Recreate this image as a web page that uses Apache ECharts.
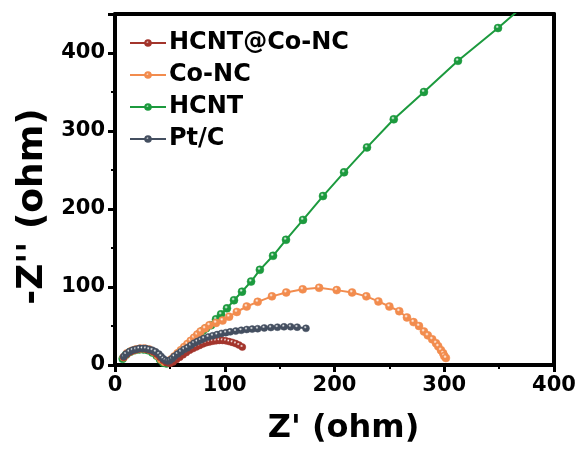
<!DOCTYPE html>
<html>
<head>
<meta charset="utf-8">
<script src="https://cdn.jsdelivr.net/npm/echarts@6/dist/echarts.min.js"></script>
<style>
  html, body { margin: 0; padding: 0; background: #fff; }
  #chart { width: 584px; height: 450px; }
</style>
</head>
<body>
<div id="chart"></div>
<script>
// Nyquist data: [Z', -Z'] in ohm
var seriesNames = ['HCNT@Co-NC', 'Co-NC', 'HCNT', 'Pt/C'];
var colors = ['#a3352c', '#f28c4e', '#1c9a3e', '#444f60'];

var hcntCoNC = [[8,10],[11,14],[14,17],[17,19],[20,20],[23,21],[26,21],[29,20],[32,19],[35,17],[38,14],[41,10],[44,6],[47,3],[50,2],[53,4],[56,7],[59,10],[62,13],[65,16],[68,19],[71,21],[74,23],[77,25],[80,27],[83,28.5],[86,29.5],[89,30.5],[92,31],[95,31.5],[98,31.5],[101,31],[104,30],[107,29],[110,27.5],[113,25.5],[116,23]];

var coNC = [[8,10],[11,15],[15,18],[19,20],[23,21],[27,21],[31,20],[35,17],[39,12],[42,7],[45,4],[48,4],[51,7],[54,11],[57,15],[60,19],[63,23],[66,27],[69,31],[72,35],[75,39],[78,43],[82,47],[86,51],[92,54],[98,57],[104,62],[111,68],[120,75],[130,81],[143,88],[156,93],[171,97],[186,99],[202,96],[216,93],[229,88],[240,81.5],[250,75],[259,69],[266,61],[272,55],[277,50],[281.5,43],[285,38],[289,33],[292.5,28],[294.5,24],[297,19],[299,15],[300,11.5],[301.5,9]];

var hcnt = [[7,8],[10,13],[14,17],[18,19],[22,20],[26,20],[30,19],[34,16],[38,12],[41,7],[44,3],[47,2],[50,4],[53,8],[56,12],[59,16],[62,20],[65,24],[68,28],[71,32],[74,36],[77,40],[80,44],[83,47],[87.5,51],[92,58.6],[96.6,65],[102,72.6],[108.4,83],[115.7,94],[124,107],[132,122],[144,140],[155.8,160.5],[171.3,186],[189.5,216.6],[208.7,247],[229.6,279],[254,315],[281.5,350],[312.5,390],[349,432],[380,470]];

var ptC = [[8,11],[10,14],[13,17],[16,19],[19,20],[22,21],[25,21],[28,21],[31,20],[34,19],[37,17],[40,14],[42,11],[44,8],[46,6],[48,5],[50,6],[52,8],[54,11],[57,14],[60,17],[63,20],[66,22],[69,25],[72,28],[75,30],[78,32],[81,34],[85,36],[89,37.5],[93,39],[97,40.5],[101,41.5],[105,42.5],[110,43.5],[115,44.5],[120,45.5],[125,46],[130,46.5],[136,47.5],[142,48],[148,48.5],[154,49],[160,49],[166,48.5],[174,47]];

var fontFam = '"DejaVu Sans", Arial, sans-serif';

function ball(c) {
  return new echarts.graphic.RadialGradient(0.4, 0.35, 0.7, [
    { offset: 0, color: '#ffffff' },
    { offset: 0.3, color: c },
    { offset: 1, color: c }
  ]);
}

function makeSeries(name, data, color, size) {
  return {
    name: name,
    type: 'line',
    data: data,
    clip: true,
    symbol: 'circle',
    symbolSize: size,
    showAllSymbol: true,
    lineStyle: { color: color, width: 2 },
    itemStyle: { color: ball(color), borderColor: color, borderWidth: 0.5 },
    emphasis: { disabled: true }
  };
}

var frameLine = { show: true, onZero: false, lineStyle: { color: '#000', width: 4 } };

var chart = echarts.init(document.getElementById('chart'));
chart.setOption({
  animation: false,
  textStyle: { fontFamily: fontFam },
  grid: { left: 115, right: 30, top: 14, bottom: 84 },
  legend: {
    left: 124, top: 26, orient: 'vertical',
    itemWidth: 36, itemHeight: 7, itemGap: 8,
    textStyle: { fontSize: 24, fontWeight: 'bold', color: '#000', fontFamily: fontFam, padding: [0, 0, 0, -2] },
    data: seriesNames.map(function (n, i) {
      return { name: n, itemStyle: { color: ball(colors[i]) } };
    })
  },
  xAxis: [{
    type: 'value', min: 0, max: 400, interval: 100,
    name: "Z' (ohm)", nameLocation: 'middle', nameGap: 48,
    nameTextStyle: { fontSize: 32, fontWeight: 'bold', color: '#000', fontFamily: fontFam, padding: [0, 0, 0, 18] },
    axisLine: frameLine,
    axisTick: { inside: false, length: 7, lineStyle: { color: '#000', width: 3 } },
    minorTick: { show: true, splitNumber: 2, length: 4, lineStyle: { color: '#000', width: 2 } },
    axisLabel: { fontSize: 21, fontWeight: 'bold', color: '#000', margin: 10, fontFamily: fontFam },
    splitLine: { show: false }
  }, {
    type: 'value', min: 0, max: 400, position: 'top',
    axisLine: frameLine,
    axisTick: { show: false }, axisLabel: { show: false }, splitLine: { show: false }
  }],
  yAxis: [{
    type: 'value', min: 0, max: 450, interval: 100,
    name: "-Z'' (ohm)", nameLocation: 'middle', nameGap: 62, nameRotate: 90,
    nameTextStyle: { fontSize: 36, fontWeight: 'bold', color: '#000', fontFamily: fontFam, padding: [0, 34, 0, 0] },
    axisLine: frameLine,
    axisTick: { inside: false, length: 7, lineStyle: { color: '#000', width: 3 } },
    minorTick: { show: true, splitNumber: 2, length: 4, lineStyle: { color: '#000', width: 2 } },
    axisLabel: { fontSize: 21, fontWeight: 'bold', color: '#000', margin: 10, showMaxLabel: false, fontFamily: fontFam },
    splitLine: { show: false }
  }, {
    type: 'value', min: 0, max: 450, position: 'right',
    axisLine: frameLine,
    axisTick: { show: false }, axisLabel: { show: false }, splitLine: { show: false }
  }],
  series: [
    makeSeries(seriesNames[2], hcnt, colors[2], 8),
    makeSeries(seriesNames[1], coNC, colors[1], 8),
    makeSeries(seriesNames[0], hcntCoNC, colors[0], 7),
    makeSeries(seriesNames[3], ptC, colors[3], 7)
  ]
});
</script>
</body>
</html>
